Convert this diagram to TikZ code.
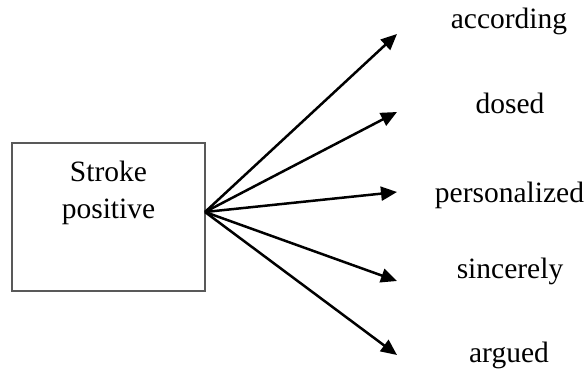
\documentclass[tikz,border=0pt]{standalone}
\usepackage{fontspec}
\setmainfont{Liberation Serif}
\usetikzlibrary{arrows.meta}
\begin{document}
\begin{tikzpicture}[x=1pt,y=-1pt,
  srcbox/.style={draw=black!65,line width=1.4pt,fill=white},
  word/.style={font=\fontsize{29.5}{37}\selectfont,anchor=base,inner sep=0pt},
  link/.style={line width=2.5pt,-{Triangle[length=16pt,width=14pt]}}]
\useasboundingbox (0,0) rectangle (586,369);
% source box
\draw[srcbox] (12,143) rectangle (205,291);
\node[word] (s1) at (108.5,181) {Stroke};
\node[word] (s2) at (108.5,218) {positive};
\coordinate (src) at (205,212);
% target words
\node[word] (w1) at (509,29) {according};
\node[word] (w2) at (510,113) {dosed};
\node[word] (w3) at (509.5,202) {personalized};
\node[word] (w4) at (510,278) {sincerely};
\node[word] (w5) at (509,362) {argued};
% arrow tips
\coordinate (t1) at (397,34);
\coordinate (t2) at (397,112);
\coordinate (t3) at (397,192);
\coordinate (t4) at (397,281);
\coordinate (t5) at (397,355);
\foreach \i in {1,...,5} \draw[link] (src) -- (t\i);
\end{tikzpicture}
\end{document}
